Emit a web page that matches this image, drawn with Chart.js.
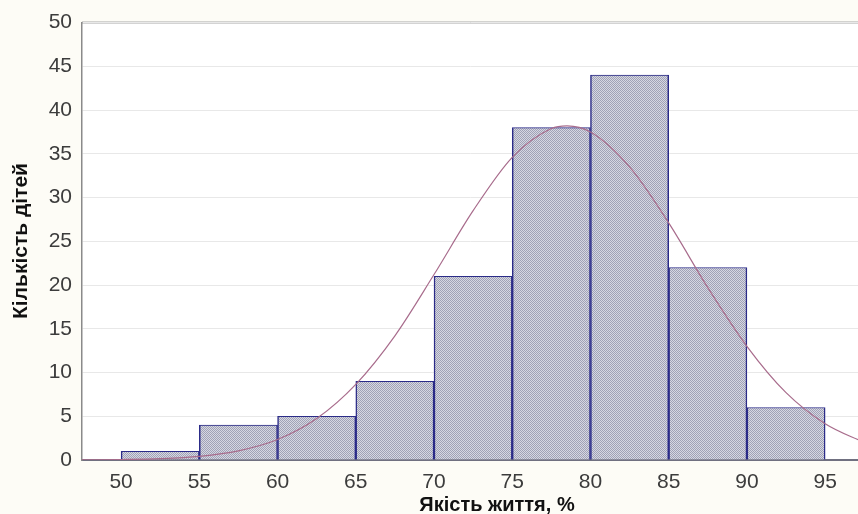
<!DOCTYPE html>
<html>
<head>
<meta charset="utf-8">
<script src="https://cdn.jsdelivr.net/npm/chart.js@4.4.1/dist/chart.umd.min.js"></script>
<style>
html,body{margin:0;padding:0;background:#fdfcf6;}
#wrap{width:858px;height:514px;position:relative;}
</style>
</head>
<body>
<div id="wrap"><canvas id="c" width="858" height="514"></canvas></div>
<script>
// Histogram bins (centres) and counts
const binCenters = [52.5, 57.5, 62.5, 67.5, 72.5, 77.5, 82.5, 87.5, 92.5];
const binCounts  = [1, 4, 5, 9, 21, 38, 44, 22, 6];
// Fitted normal curve
const curveX = [47.5, 50, 52.5, 55, 57.5, 60, 62.5, 65, 67.5, 70, 72.5, 75, 77.5, 78.5, 80, 82.5, 85, 87.5, 90, 92.5, 95, 97.5];
const curveY = [0.01, 0.05, 0.15, 0.42, 1.05, 2.34, 4.74, 8.65, 14.2, 21.2, 28.5, 34.6, 37.9, 38.2, 37.5, 33.5, 27.1, 19.7, 13.0, 7.7, 4.15, 2.0];
const xTickLabels = [50, 55, 60, 65, 70, 75, 80, 85, 90, 95];
const yTickLabels = [0, 5, 10, 15, 20, 25, 30, 35, 40, 45, 50];
const xTitle = 'Якість життя, %';
const yTitle = 'Кількість дітей';

// dotted fill pattern
const pc = document.createElement('canvas');
pc.width = 2; pc.height = 2;
const px = pc.getContext('2d');
px.fillStyle = '#d6d7e2'; px.fillRect(0,0,2,2);
px.fillStyle = '#a0a2b6'; px.fillRect(0,0,1,1); px.fillRect(1,1,1,1);

const ctx = document.getElementById('c').getContext('2d');
const pattern = ctx.createPattern(pc, 'repeat');

const FONT = 'Liberation Sans, Arial, sans-serif';

const plotBg = {
  id: 'plotBg',
  beforeDraw(chart) {
    const {ctx, chartArea: a} = chart;
    ctx.save();
    ctx.fillStyle = '#ffffff';
    ctx.fillRect(a.left, a.top, a.right - a.left, a.bottom - a.top);
    ctx.strokeStyle = '#a8a8a8';
    ctx.lineWidth = 2;
    ctx.beginPath();
    ctx.moveTo(a.left, a.top); ctx.lineTo(a.right, a.top);
    ctx.stroke();
    ctx.restore();
  },
  afterDraw(chart) {
    const {ctx} = chart;
    ctx.save();
    ctx.fillStyle = '#111111';
    ctx.font = 'bold 20px ' + FONT;
    ctx.textAlign = 'center';
    ctx.textBaseline = 'middle';
    ctx.fillText(xTitle, 497, 505);
    ctx.translate(21, 241);
    ctx.rotate(-Math.PI / 2);
    ctx.font = 'bold 21px ' + FONT;
    ctx.fillText(yTitle, 0, 0);
    ctx.restore();
  }
};

new Chart(ctx, {
  data: {
    datasets: [
      {
        type: 'line',
        data: curveX.map((x, i) => ({x, y: curveY[i]})),
        borderColor: '#a86c8c',
        borderWidth: 1.2,
        pointRadius: 0,
        tension: 0.4,
        cubicInterpolationMode: 'monotone',
        fill: false,
        order: 0
      },
      {
        type: 'bar',
        data: binCenters.map((x, i) => ({x, y: binCounts[i]})),
        backgroundColor: pattern,
        borderColor: '#2b2b88',
        borderWidth: {left: 1.5, right: 1.5, top: 1, bottom: 0},
        barPercentage: 1,
        categoryPercentage: 1,
        order: 1
      }
    ]
  },
  options: {
    responsive: false,
    animation: false,
    events: [],
    layout: {padding: {left: 0, right: 0, top: 22, bottom: 0}},
    plugins: {legend: {display: false}, tooltip: {enabled: false}},
    scales: {
      x: {
        type: 'linear',
        min: 47.5,
        max: 97.1,
        offset: false,
        afterBuildTicks(s) { s.ticks = xTickLabels.map(v => ({value: v})); },
        afterFit(s) { s.height = 54; },
        grid: {display: false, drawTicks: false},
        border: {display: true, color: '#707080', width: 2},
        ticks: {
          color: '#3c3c3c',
          font: {family: FONT, size: 21},
          padding: 10,
          maxRotation: 0,
          autoSkip: false
        },
        title: {display: false}
      },
      y: {
        type: 'linear',
        min: 0,
        max: 50,
        afterBuildTicks(s) { s.ticks = yTickLabels.map(v => ({value: v})); },
        afterFit(s) { s.width = 82; },
        grid: {color: '#e8e8e8', lineWidth: 1, drawTicks: false},
        border: {display: true, color: '#8a8a8a', width: 1.5},
        ticks: {
          color: '#3c3c3c',
          font: {family: FONT, size: 21},
          padding: 10
        },
        title: {display: false}
      }
    }
  },
  plugins: [plotBg]
});
</script>
</body>
</html>
